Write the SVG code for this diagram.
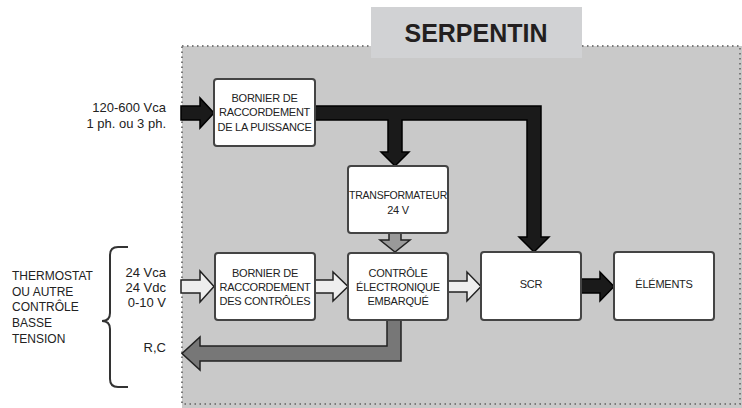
<svg xmlns="http://www.w3.org/2000/svg" width="742" height="408" viewBox="0 0 742 408">
<style>
.box{fill:#fff;stroke:#444;stroke-width:2}
.bt{font-family:"Liberation Sans",Arial,sans-serif;font-size:11px;fill:#222;text-anchor:middle;letter-spacing:-0.25px}
.lt{font-family:"Liberation Sans",Arial,sans-serif;font-size:13px;fill:#222}
.blk{fill:#1a1a1a;stroke:#000;stroke-width:1.5;stroke-linejoin:miter}
.wht{fill:#eeeeee;stroke:#222;stroke-width:1.5}
.gry{fill:#999;stroke:#222;stroke-width:1.5}
.dgr{fill:#777;stroke:#222;stroke-width:1.5}
</style>
<rect width="742" height="408" fill="#fff"/>
<g id="serpentin">
<rect x="182" y="46" width="560" height="362" fill="#c9c9c9"/>
<rect x="182" y="46" width="558" height="358" fill="none" stroke="#7a7a7a" stroke-width="2" stroke-dasharray="1.5 3.5"/>
<rect x="371" y="7" width="211" height="51" fill="#d1d2d4"/>
<text x="476" y="42" font-family="'Liberation Sans',Arial,sans-serif" font-size="25" font-weight="bold" fill="#231f20" text-anchor="middle">SERPENTIN</text>
</g>
<g id="labels">
<text class="lt" x="166" y="112" text-anchor="end">120-600 Vca</text>
<text class="lt" x="166" y="128" text-anchor="end">1 ph. ou 3 ph.</text>
<text class="lt" x="166" y="277" text-anchor="end">24 Vca</text>
<text class="lt" x="166" y="292" text-anchor="end">24 Vdc</text>
<text class="lt" x="166" y="307" text-anchor="end">0-10 V</text>
<text class="lt" x="166" y="352" text-anchor="end">R,C</text>
<g font-family="'Liberation Sans',Arial,sans-serif" font-size="12" fill="#222">
<text x="12" y="280">THERMOSTAT</text>
<text x="12" y="296">OU AUTRE</text>
<text x="12" y="311">CONTRÔLE</text>
<text x="12" y="327">BASSE</text>
<text x="12" y="343">TENSION</text>
</g>
<path d="M128,247 L118,247 Q110,247 110,255 L110,313 Q110,321 102,321 Q110,321 110,329 L110,379 Q110,387 118,387 L128,387" fill="none" stroke="#333" stroke-width="2"/>
</g>
<g id="connectors">
<polygon class="blk" points="181,106 200,106 200,98 214,113 200,128 200,120 181,120"/>
<polygon class="blk" points="315,106 541,106 541,237 549,237 534,252 519,237 527,237 527,120 402,120 402,152 409,152 395,166 381,152 388,152 388,120 315,120"/>
<polygon class="gry" points="389,233 401,233 401,240 410,240 395,252 380,240 389,240"/>
<polygon class="wht" points="181,280 200,280 200,271 214,286.5 200,302 200,293 181,293"/>
<polygon class="wht" points="315,280 333,280 333,272 348,286.5 333,301 333,293 315,293"/>
<polygon class="wht" points="448,281 467,281 467,272 481,286.5 467,301 467,292 448,292"/>
<polygon class="blk" points="581,279 600,279 600,272 614,286.5 600,301 600,293 581,293"/>
<polygon class="dgr" points="387,320 401,320 401,361 200,361 200,370 182,353.5 200,337 200,346 387,346"/>
</g>
<g id="bornier-puissance">
<rect class="box" x="214" y="79" width="101" height="67" rx="3"/>
<text class="bt" x="264.5" y="102">BORNIER DE</text>
<text class="bt" x="264.5" y="116">RACCORDEMENT</text>
<text class="bt" x="264.5" y="131">DE LA PUISSANCE</text>
</g>
<g id="transformateur">
<rect class="box" x="348" y="166" width="100" height="67" rx="3"/>
<text class="bt" x="398" y="199" textLength="98" lengthAdjust="spacingAndGlyphs">TRANSFORMATEUR</text>
<text class="bt" x="398" y="214">24 V</text>
</g>
<g id="bornier-controles">
<rect class="box" x="215" y="253" width="100" height="67" rx="3"/>
<text class="bt" x="265" y="277">BORNIER DE</text>
<text class="bt" x="265" y="291">RACCORDEMENT</text>
<text class="bt" x="265" y="305">DES CONTRÔLES</text>
</g>
<g id="controle">
<rect class="box" x="348" y="253" width="100" height="67" rx="3"/>
<text class="bt" x="398" y="277">CONTRÔLE</text>
<text class="bt" x="398" y="291">ÉLECTRONIQUE</text>
<text class="bt" x="398" y="305">EMBARQUÉ</text>
</g>
<g id="scr">
<rect class="box" x="481" y="252" width="100" height="68" rx="3"/>
<text class="bt" x="531" y="288">SCR</text>
</g>
<g id="elements">
<rect class="box" x="614" y="252" width="100" height="68" rx="3"/>
<text class="bt" x="664" y="288">ÉLÉMENTS</text>
</g>
</svg>
